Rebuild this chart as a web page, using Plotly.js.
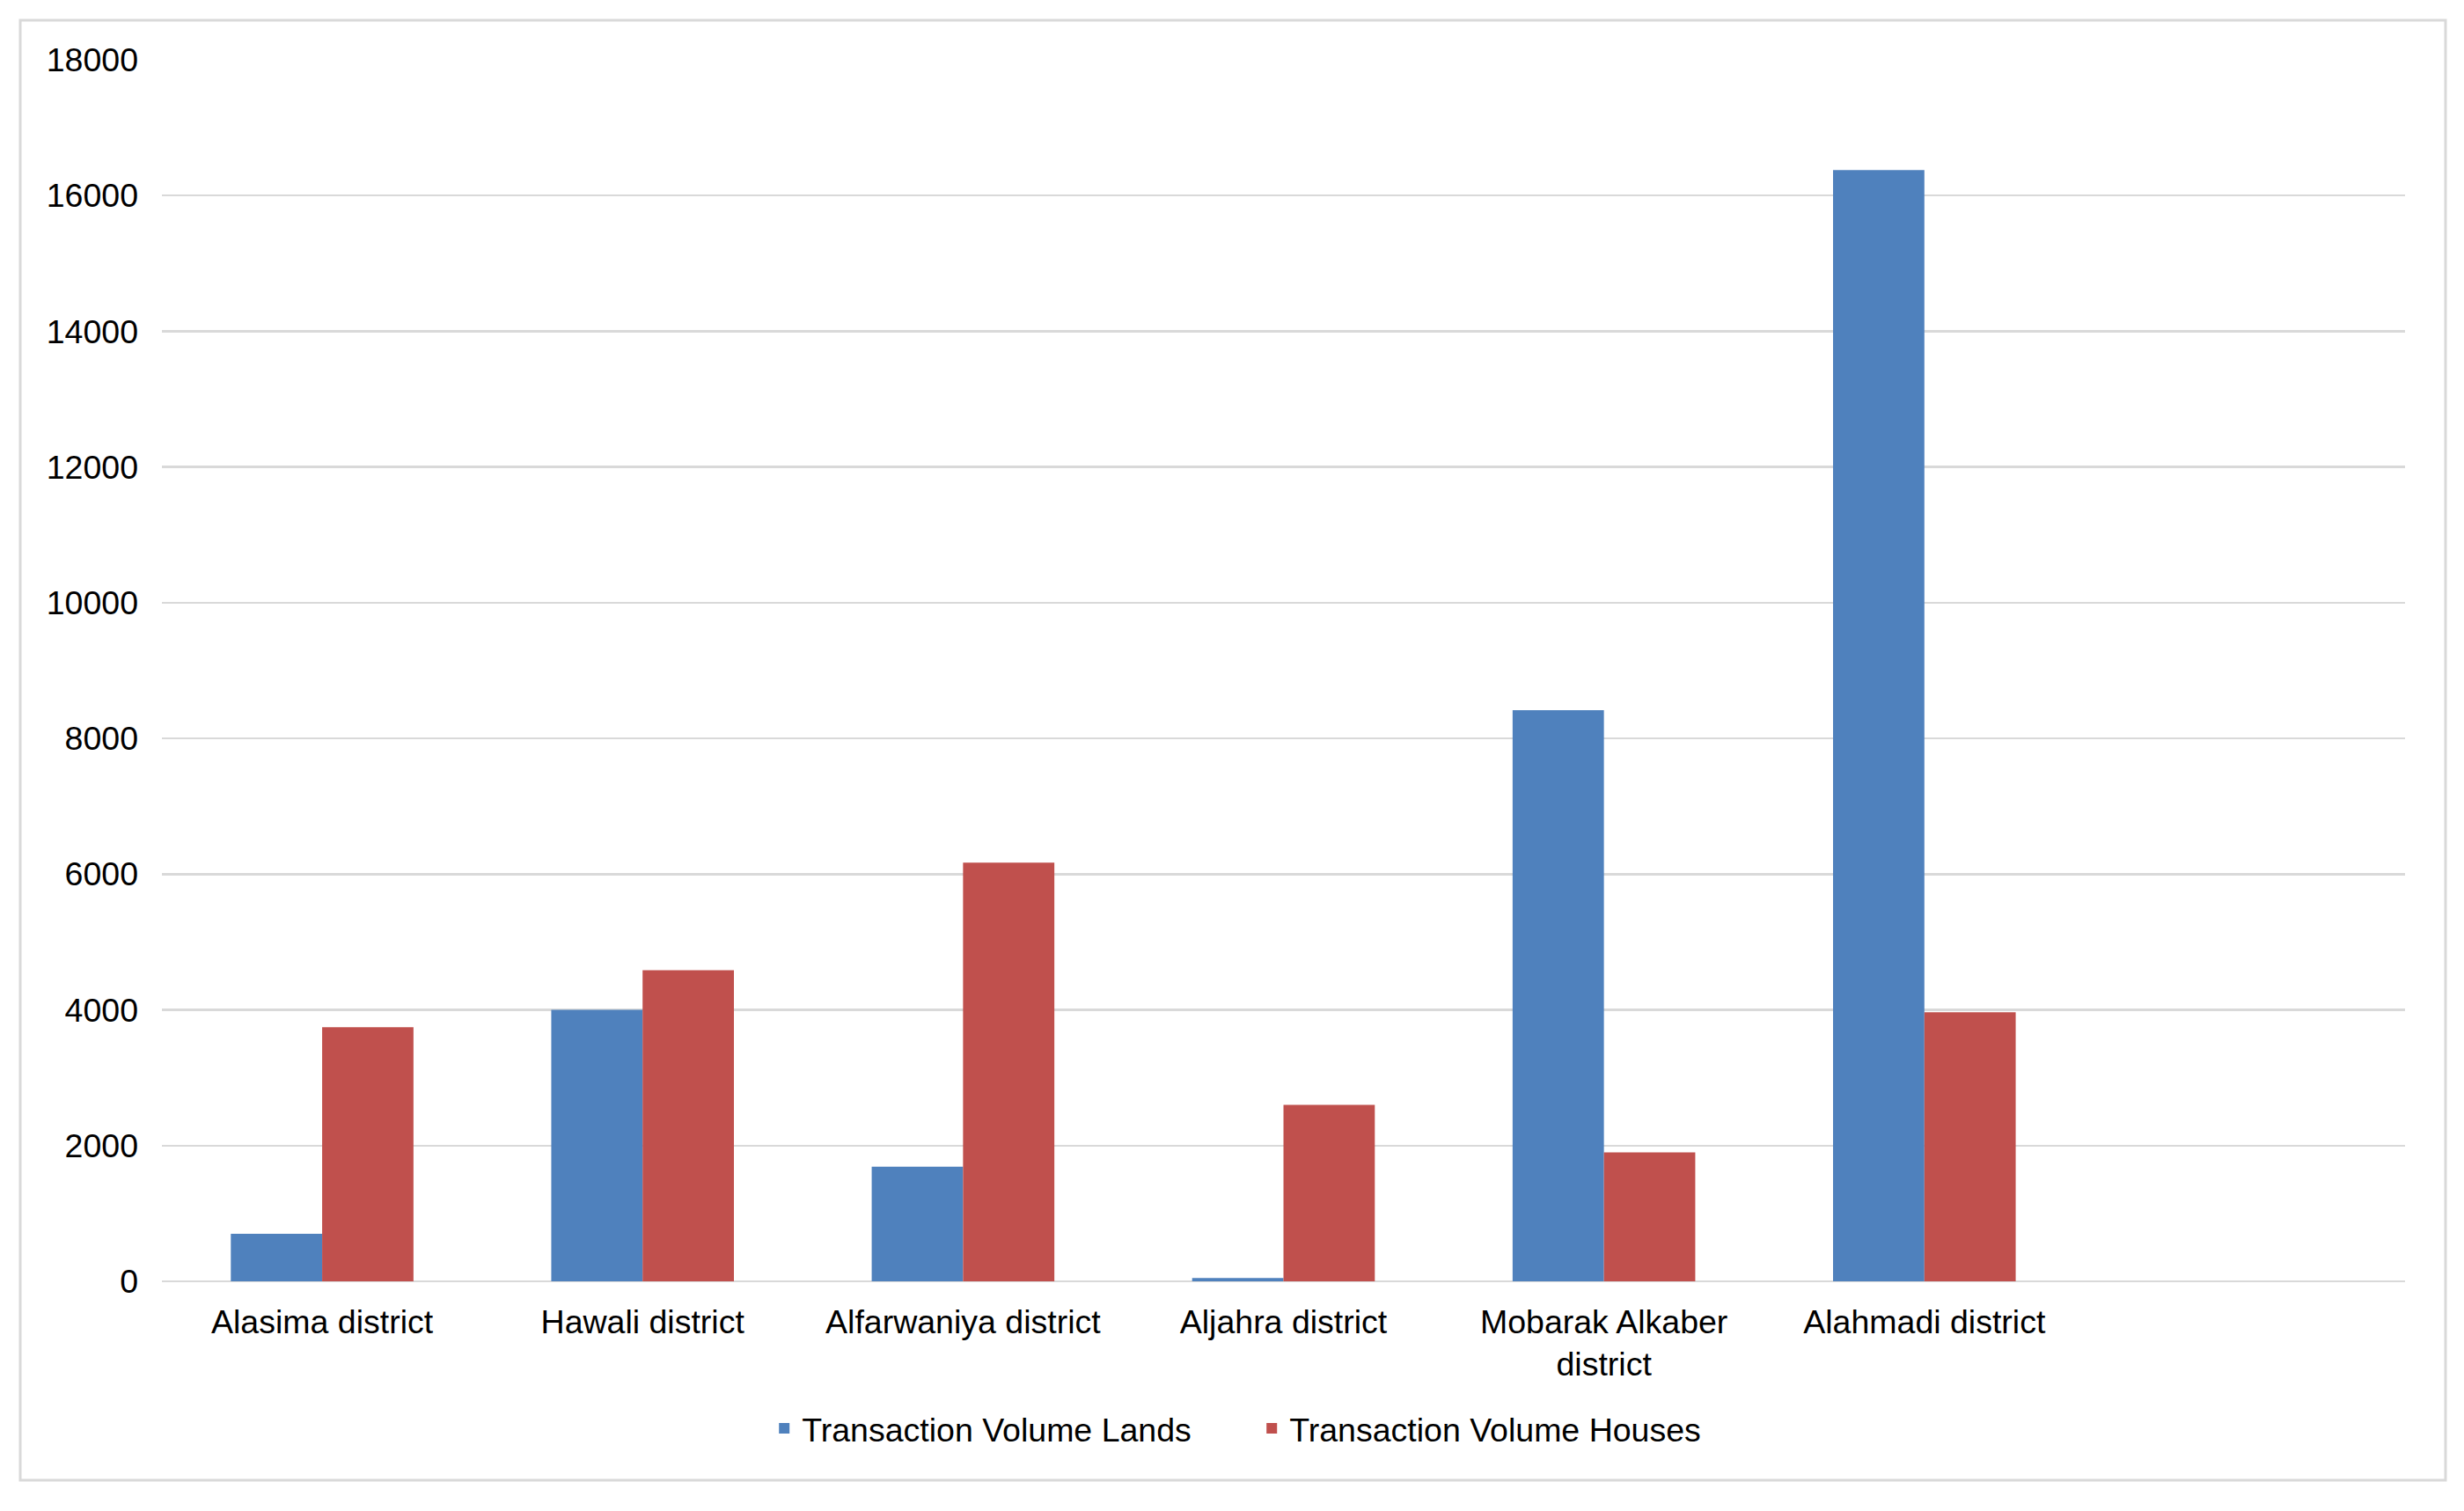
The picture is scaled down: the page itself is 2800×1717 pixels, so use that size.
<!DOCTYPE html>
<html>
<head>
<meta charset="utf-8">
<script src="https://cdn.plot.ly/plotly-3.0.1.min.js"></script>
<style>
  html, body { margin: 0; padding: 0; background: #ffffff; }
  #chart { width: 2800px; height: 1717px; }
</style>
</head>
<body>
<div id="chart"></div>
<script>
// Data
const categories = [
  "Alasima district",
  "Hawali district",
  "Alfarwaniya district",
  "Aljahra district",
  "Mobarak Alkaber<br>district",
  "Alahmadi district"
];
const seriesNames = ["Transaction Volume Lands", "Transaction Volume Houses"];
const landsValues  = [700, 4000, 1690, 50, 8415, 16375];
const housesValues = [3745, 4585, 6170, 2600, 1900, 3965];
const yTickValues = [0, 2000, 4000, 6000, 8000, 10000, 12000, 14000, 16000, 18000];
const yTickLabels = ["0", "2000", "4000", "6000", "8000", "10000", "12000", "14000", "16000", "18000"];

const FONT = "Liberation Sans, Arial, sans-serif";
const FS = 37.5;
const W = 2800, H = 1717;
const L = 184, R = 67, T = 68, B = 261;
const plotW = W - L - R, plotH = H - T - B;

const traces = [
  {
    type: "bar",
    name: seriesNames[0],
    x: categories,
    y: landsValues,
    marker: { color: "#4f81bd" },
    hoverinfo: "x+y+name"
  },
  {
    type: "bar",
    name: seriesNames[1],
    x: categories,
    y: housesValues,
    marker: { color: "#c0504d" },
    hoverinfo: "x+y+name"
  }
];

// outer frame in paper coordinates
const fx0 = (23 - L) / plotW, fx1 = (2779 - L) / plotW;
const fy0 = ((H - B) - 1682) / plotH, fy1 = ((H - B) - 23) / plotH;

const layout = {
  width: W,
  height: H,
  autosize: false,
  paper_bgcolor: "#ffffff",
  plot_bgcolor: "#ffffff",
  margin: { l: L, r: R, t: T, b: B, pad: 0 },
  font: { family: FONT, size: FS, color: "#000000" },
  barmode: "group",
  bargap: 0.43,
  bargroupgap: 0,
  showlegend: true,
  legend: {
    orientation: "h",
    xref: "container",
    yref: "container",
    x: 0.509,
    xanchor: "center",
    y: 1 - 1623 / H,
    yanchor: "middle",
    font: { family: FONT, size: FS, color: "#000000" },
    itemwidth: 30,
    entrywidth: 509,
    entrywidthmode: "pixels",
    traceorder: "normal",
    bgcolor: "rgba(0,0,0,0)"
  },
  xaxis: {
    type: "category",
    range: [-0.5, 6.5],
    showgrid: false,
    showline: false,
    zeroline: false,
    ticks: "",
    ticklabelstandoff: 20,
    tickfont: { family: FONT, size: FS, color: "#000000" },
    fixedrange: true
  },
  yaxis: {
    range: [0, 18000],
    tickmode: "array",
    tickvals: yTickValues,
    ticktext: yTickLabels,
    showgrid: true,
    gridcolor: "#d9d9d9",
    gridwidth: 2.5,
    zeroline: true,
    zerolinecolor: "#d9d9d9",
    zerolinewidth: 2.5,
    showline: false,
    ticks: "",
    ticklabelstandoff: 26,
    tickfont: { family: FONT, size: FS, color: "#000000" },
    fixedrange: true
  },
  shapes: [
    {
      type: "rect",
      xref: "paper",
      yref: "paper",
      x0: fx0, x1: fx1, y0: fy0, y1: fy1,
      line: { color: "#d9d9d9", width: 3 },
      fillcolor: "rgba(0,0,0,0)",
      layer: "below"
    }
  ]
};

Plotly.newPlot("chart", traces, layout, { displayModeBar: false, staticPlot: true });
</script>
</body>
</html>
